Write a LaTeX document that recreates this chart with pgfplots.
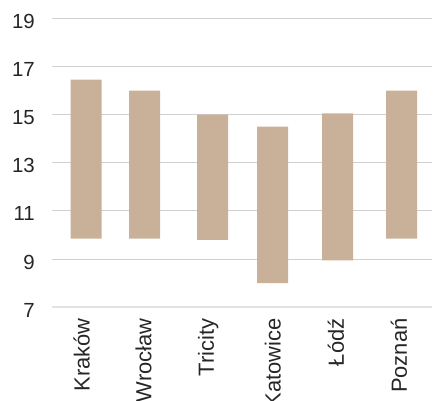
\documentclass[border=0pt]{standalone}
\usepackage{pgfplots}
\pgfplotsset{compat=1.18}
\usepackage{pgfplotstable}
\usepackage{fontspec}
\setmainfont{Liberation Sans}
\definecolor{barc}{RGB}{200,177,152}
\definecolor{gridc}{RGB}{208,208,208}
\definecolor{gridb}{RGB}{226,226,226}
\pgfplotstableread{
x     low   diff
86    9.85  6.60
144.5 9.85  6.15
212.5 9.80  5.20
272.5 8.00  6.50
337.5 8.95  6.10
401.5 9.85  6.15
}\rangedata
\begin{document}
\begin{tikzpicture}
\begin{axis}[
  at={(52bp,93.7bp)}, anchor=south west,
  scale only axis, width=380bp, height=289bp,
  xmin=52, xmax=432, ymin=7, ymax=19,
  ybar stacked, bar width=31,
  axis line style={draw=none},
  major tick length=0pt,
  tick style={draw=none},
  ytick={9,11,...,19},
  extra y ticks={7},
  extra y tick style={grid style={gridb, line width=2bp}},
  ymajorgrids,
  grid style={gridc, line width=1bp},
  xtick={81.7,143.5,208.3,272.7,336,398.8},
  xticklabels={Kraków,Wrocław,Tricity,Katowice,Łódź,Poznań},
  xticklabel style={font=\fontsize{22}{22}\selectfont, rotate=90, anchor=east, inner sep=0pt, text=black!85},
  xticklabel shift=11bp,
  yticklabel style={font=\fontsize{20.5}{20.5}\selectfont, anchor=east, inner sep=0pt, yshift=-3bp, text=black!85},
  yticklabel shift=17bp,
  /pgf/number format/assume math mode=true,
  clip=false,
]
\addplot[draw=none, fill=none] table[x=x, y=low] {\rangedata};
\addplot[draw=none, fill=barc] table[x=x, y=diff] {\rangedata};
\end{axis}
\pgfresetboundingbox
\useasboundingbox (0,0) rectangle (435bp,401bp);
\end{tikzpicture}
\end{document}
